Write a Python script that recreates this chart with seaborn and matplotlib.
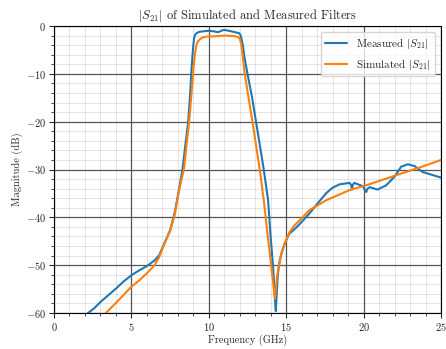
import numpy as np
import pandas as pd
import seaborn as sns
import matplotlib.pyplot as plt
from matplotlib.ticker import MultipleLocator

# --- DATA ---
meas_freq = [2.2, 2.6, 3.0, 3.5, 4.0, 4.5, 5.0, 5.5, 6.0, 6.5, 6.8, 7.0, 7.5, 7.8, 8.0,
             8.3, 8.5, 8.67, 8.8, 8.88, 8.95, 9.0, 9.05, 9.12, 9.25, 9.42, 9.96, 10.3,
             10.6, 10.97, 11.3, 11.57, 11.96, 12.05, 12.12, 12.2, 12.3, 12.5, 12.8,
             13.05, 13.55, 13.83, 13.98, 14.15, 14.25, 14.3, 14.33, 14.37, 14.45, 14.52,
             14.6, 14.7, 14.9, 15.2, 15.5, 15.9, 16.5, 17.0, 17.6, 18.0, 18.45, 19.1,
             19.2, 19.25, 19.3, 19.4, 19.96, 20.1, 20.17, 20.25, 20.4, 20.9, 21.46,
             22.0, 22.43, 22.87, 23.3, 23.8, 24.5, 25.0]
meas_db = [-60, -59.0, -57.7, -56.3, -54.9, -53.4, -52.1, -51.1, -50.2, -49.0, -47.9,
           -46.4, -42.7, -39.0, -35.5, -30, -24.5, -20, -14, -9.2, -6.0, -4.0, -2.5,
           -1.8, -1.4, -1.2, -1.0, -1.1, -1.3, -0.8, -1.0, -1.2, -1.5, -1.9, -2.8,
           -4.0, -6.5, -10, -15, -20, -30, -36.4, -43.4, -50.3, -55.5, -58.5, -59.6,
           -57, -52.5, -50.3, -48.8, -47.5, -45.5, -43.4, -42.6, -41.3, -39.2, -37.2,
           -34.9, -33.8, -33.1, -32.8, -33.3, -34.2, -33.2, -32.8, -33.5, -34.4, -34.7,
           -34.0, -33.7, -34.2, -33.3, -31.5, -29.4, -28.9, -29.3, -30.5, -31.2, -31.7]

sim_freq = [3.35, 4.0, 4.5, 5.0, 5.5, 6.0, 6.5, 6.8, 7.0, 7.5, 7.8, 8.1, 8.39, 8.73,
            8.9, 9.0, 9.1, 9.2, 9.3, 9.42, 9.6, 9.85, 10.2, 11.0, 11.6, 11.9, 12.0,
            12.1, 12.17, 12.32, 12.82, 13.29, 13.55, 13.79, 14.04, 14.15, 14.24, 14.28,
            14.32, 14.4, 14.52, 14.7, 14.9, 15.2, 15.5, 15.87, 16.5, 17.6, 19.1, 20.17,
            21.46, 22.76, 24.05, 25.0]
sim_db = [-60, -57.9, -56.2, -54.5, -53.2, -51.7, -50.0, -48.3, -46.6, -42.8, -39.5,
          -34, -30, -20, -13.5, -9.2, -6.0, -4.0, -3.2, -2.8, -2.4, -2.2, -2.2, -2.0,
          -2.1, -2.3, -2.7, -3.8, -5.7, -10, -20, -30, -36.4, -43.4, -50.3, -53.5,
          -56.3, -57, -55.5, -52.5, -50.3, -47.3, -45.5, -43.2, -41.8, -40.6, -38.5,
          -36.4, -34.3, -33.3, -31.9, -30.5, -29.1, -28.0]

meas = pd.DataFrame({'freq': meas_freq, 'db': meas_db})
sim = pd.DataFrame({'freq': sim_freq, 'db': sim_db})

sns.set_style("white")
plt.rcParams['font.family'] = 'serif'
plt.rcParams['font.serif'] = ['cmr10', 'DejaVu Serif']
plt.rcParams['mathtext.fontset'] = 'cm'
plt.rcParams['axes.formatter.use_mathtext'] = True
plt.rcParams['axes.unicode_minus'] = True

fig = plt.figure(figsize=(4.46, 3.49), dpi=100)
ax = fig.add_axes([54 / 446, 1 - 313 / 349, 387 / 446, 287 / 349])

sns.lineplot(data=meas, x='freq', y='db', ax=ax, color='#1f77b4', lw=1.5,
             label=r'Measured $|S_{21}|$', sort=False)
sns.lineplot(data=sim, x='freq', y='db', ax=ax, color='#ff7f0e', lw=1.5,
             label=r'Simulated $|S_{21}|$', sort=False)

ax.set_xlim(0, 25)
ax.set_ylim(-60, 0)
ax.xaxis.set_major_locator(MultipleLocator(5))
ax.xaxis.set_minor_locator(MultipleLocator(1))
ax.yaxis.set_major_locator(MultipleLocator(10))
ax.yaxis.set_minor_locator(MultipleLocator(2))
# minor grid is translucent so it doesn't cut through the major lines
ax.grid(which='major', color='#555555', lw=0.9)
ax.grid(which='minor', color='black', alpha=0.12, lw=0.6)
ax.set_axisbelow(True)
for s in ax.spines.values():
    s.set_color('black')
    s.set_linewidth(0.8)
ax.tick_params(which='major', length=3.3, width=0.8, labelsize=7.5, direction='out',
               pad=2.5, bottom=True, left=True)
ax.tick_params(which='minor', length=2, width=0.6, direction='out',
               bottom=True, left=True)

ax.set_title(r'$|S_{21}|$ of Simulated and Measured Filters', fontsize=9, pad=5)
ax.set_xlabel('Frequency (GHz)', fontsize=7.5, labelpad=1.5)
ax.set_ylabel('Magnitude (dB)', fontsize=7.5, labelpad=2)
ax.legend(loc='upper right', fontsize=8, framealpha=0.8)

fig.savefig('out.png', dpi=100)
